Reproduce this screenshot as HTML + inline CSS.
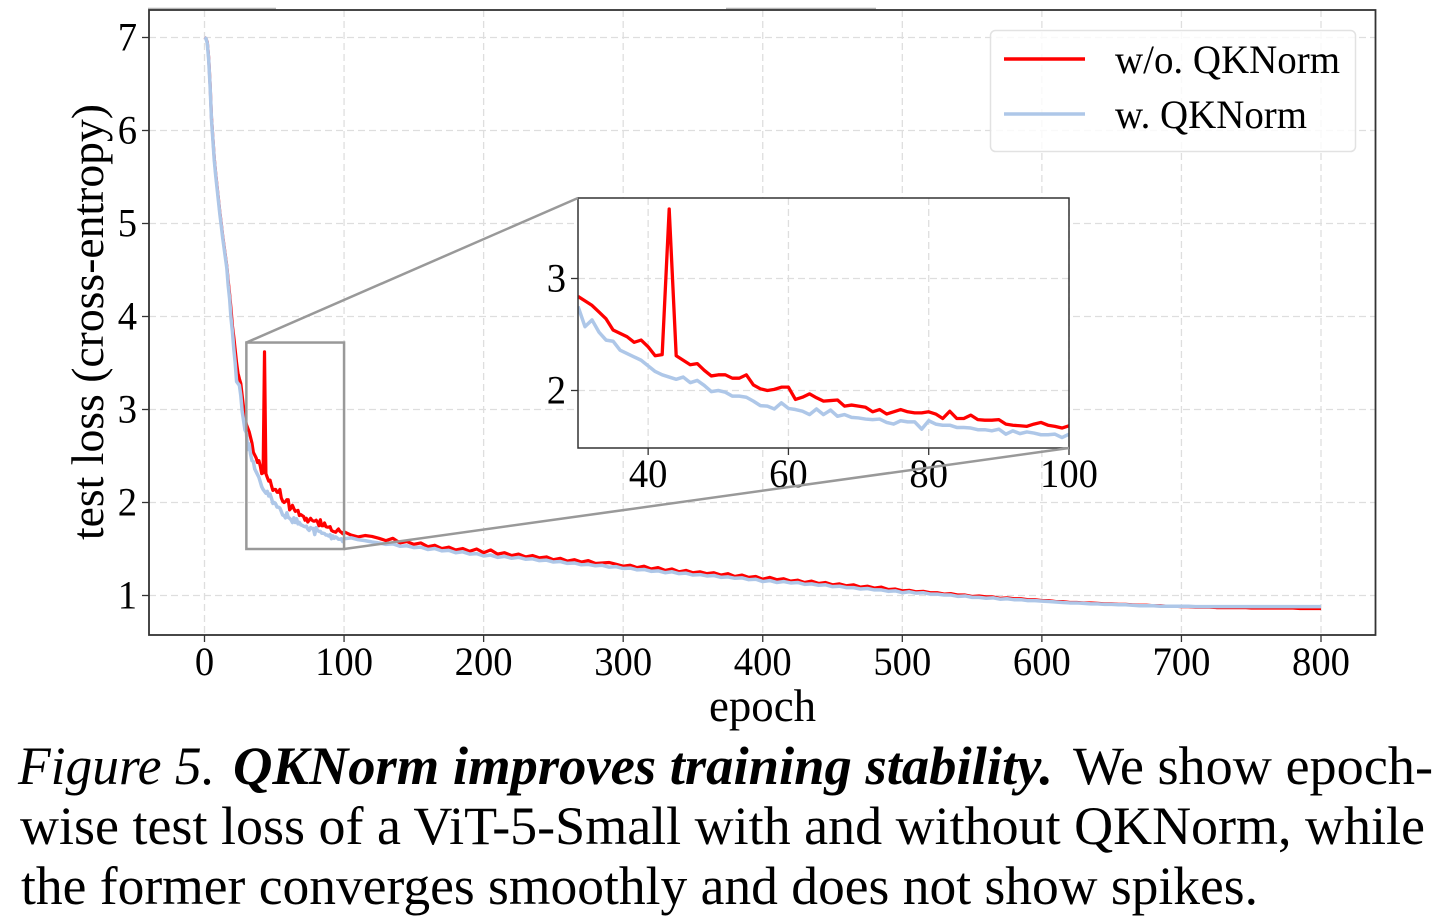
<!DOCTYPE html>
<html lang="en">
<head>
<meta charset="utf-8">
<title>QKNorm improves training stability</title>
<style>
html,body{margin:0;padding:0;background:#fff;width:1435px;height:920px;overflow:hidden}
svg{display:block}
text{font-family:"Liberation Serif",serif;fill:#000}
</style>
</head>
<body>
<svg id="fig" xmlns="http://www.w3.org/2000/svg" width="1435" height="920" viewBox="0 0 1435 920">
  <rect x="0" y="0" width="1435" height="920" fill="#fff"/>
  <g id="main"></g>
  <g id="inset"></g>
  <g>
    <rect x="990.5" y="30.5" width="365" height="121" rx="5" fill="#fff" fill-opacity="0.8" stroke="#e2e2e2" stroke-width="1.5"/>
    <line x1="1004" y1="59" x2="1085" y2="59" stroke="#ff0000" stroke-width="3.5"/>
    <text x="1115" y="73" font-size="40" textLength="225" lengthAdjust="spacingAndGlyphs">w/o. QKNorm</text>
    <line x1="1004" y1="114" x2="1085" y2="114" stroke="#aec7e8" stroke-width="3.5"/>
    <text x="1115" y="128" font-size="40" textLength="192" lengthAdjust="spacingAndGlyphs">w. QKNorm</text>
  </g>
  <g>
    <text x="18" y="784" font-size="54" font-style="italic" textLength="197" lengthAdjust="spacingAndGlyphs">Figure 5.</text>
    <text x="233" y="784" font-size="54" font-style="italic" font-weight="bold" textLength="820" lengthAdjust="spacingAndGlyphs">QKNorm improves training stability.</text>
    <text x="1073" y="784" font-size="54" textLength="360" lengthAdjust="spacingAndGlyphs">We show epoch-</text>
    <text x="20" y="844" font-size="54" textLength="1405" lengthAdjust="spacingAndGlyphs">wise test loss of a ViT-5-Small with and without QKNorm, while</text>
    <text x="21" y="904" font-size="54" textLength="1237" lengthAdjust="spacingAndGlyphs">the former converges smoothly and does not show spikes.</text>
  </g>
</svg>
<script>
const mainXTicks = [0,100,200,300,400,500,600,700,800];
const mainYTicks = [1,2,3,4,5,6,7];
const insetXTicks = [40,60,80,100];
const insetYTicks = [2,3];

// epochs 0..29, one value per epoch
const headRed = [7.0,6.99,6.95,6.78,6.5,6.14,5.92,5.7,5.54,5.4,5.26,5.12,5.0,4.87,4.76,4.65,4.54,4.38,4.24,4.08,3.9,3.78,3.64,3.5,3.39,3.33,3.28,3.15,3.02,2.92];
const headBlue = [7.0,6.99,6.94,6.76,6.48,6.12,5.9,5.68,5.52,5.38,5.24,5.1,4.98,4.85,4.74,4.63,4.52,4.33,4.19,3.98,3.84,3.65,3.5,3.30,3.28,3.26,3.15,2.98,2.88,2.78];

// epochs 30..100, one value per epoch (shown in the inset)
const zoomRed = [2.84,2.80,2.76,2.70,2.64,2.54,2.51,2.48,2.43,2.45,2.39,2.31,2.32,3.62,2.31,2.27,2.23,2.24,2.18,2.13,2.14,2.14,2.11,2.11,2.14,2.05,2.015,2.00,2.01,2.03,2.03,1.92,1.94,1.97,1.935,1.905,1.91,1.915,1.86,1.87,1.86,1.85,1.81,1.83,1.79,1.81,1.83,1.81,1.80,1.80,1.81,1.79,1.75,1.815,1.75,1.75,1.78,1.74,1.735,1.735,1.74,1.70,1.69,1.685,1.68,1.70,1.715,1.69,1.68,1.665,1.685];
const zoomBlue = [2.75,2.57,2.63,2.52,2.45,2.44,2.36,2.33,2.30,2.27,2.22,2.17,2.14,2.12,2.10,2.12,2.07,2.09,2.045,1.99,2.00,1.985,1.95,1.95,1.94,1.905,1.865,1.86,1.835,1.89,1.84,1.83,1.815,1.785,1.835,1.785,1.825,1.77,1.785,1.76,1.755,1.745,1.74,1.745,1.715,1.70,1.73,1.72,1.72,1.655,1.73,1.70,1.69,1.69,1.67,1.67,1.665,1.65,1.65,1.64,1.655,1.61,1.64,1.615,1.63,1.62,1.605,1.605,1.61,1.58,1.61];

// epochs 105..800, one value every 5 epochs
const tailRed = [1.65,1.63,1.645,1.635,1.615,1.59,1.615,1.565,1.58,1.55,
1.565,1.525,1.54,1.505,1.52,1.49,1.505,1.475,1.50,1.46,
1.49,1.445,1.46,1.43,1.445,1.415,1.43,1.405,1.415,1.385,
1.40,1.37,1.385,1.36,1.375,1.345,1.35,1.355,1.335,1.315,
1.325,1.30,1.315,1.285,1.30,1.27,1.285,1.255,1.27,1.245,
1.255,1.235,1.245,1.22,1.235,1.205,1.22,1.195,1.205,1.175,
1.195,1.17,1.18,1.155,1.165,1.14,1.155,1.13,1.14,1.115,
1.125,1.105,1.115,1.09,1.10,1.08,1.09,1.065,1.07,1.05,
1.055,1.04,1.045,1.03,1.03,1.015,1.02,1.005,1.005,0.99,
0.995,0.985,0.985,0.97,0.975,0.965,0.965,0.955,0.955,0.945,
0.945,0.935,0.935,0.925,0.925,0.92,0.92,0.915,0.91,0.91,
0.905,0.905,0.90,0.895,0.895,0.89,0.89,0.885,0.885,0.88,
0.88,0.875,0.875,0.875,0.87,0.87,0.87,0.87,0.87,0.865,
0.865,0.865,0.865,0.865,0.865,0.865,0.86,0.86,0.86,0.86];
const tailBlue = [1.62,1.60,1.59,1.575,1.565,1.55,1.555,1.53,1.535,1.515,
1.52,1.495,1.505,1.48,1.485,1.46,1.47,1.445,1.45,1.425,
1.435,1.41,1.42,1.40,1.41,1.39,1.395,1.375,1.38,1.36,
1.365,1.345,1.35,1.33,1.335,1.32,1.325,1.305,1.31,1.29,
1.295,1.275,1.28,1.26,1.265,1.245,1.255,1.235,1.24,1.22,
1.225,1.21,1.215,1.195,1.20,1.185,1.19,1.17,1.175,1.15,
1.16,1.14,1.15,1.135,1.14,1.12,1.125,1.11,1.115,1.095,
1.10,1.085,1.085,1.07,1.075,1.06,1.06,1.045,1.05,1.03,
1.04,1.025,1.03,1.015,1.015,1.005,1.005,0.99,0.995,0.98,
0.98,0.97,0.975,0.96,0.965,0.955,0.955,0.945,0.945,0.94,
0.935,0.93,0.925,0.92,0.92,0.915,0.91,0.91,0.905,0.905,
0.90,0.90,0.895,0.89,0.89,0.89,0.885,0.885,0.885,0.885,
0.885,0.88,0.88,0.88,0.88,0.88,0.88,0.88,0.88,0.88,
0.88,0.88,0.88,0.88,0.88,0.88,0.88,0.88,0.88,0.88];

const NS = 'http://www.w3.org/2000/svg';
const mainG = document.getElementById('main');
const insetG = document.getElementById('inset');

// main axes: x 0→204.5, 800→1321; y 1→595.5, 7→37.5
function mx(v){ return 204.5 + v * (1321 - 204.5) / 800; }
function my(v){ return 595.5 - (v - 1) * 93; }
// inset axes: x 30→578, 100→1069; y 2→390.5, 3→278.5
function ix(v){ return 578 + (v - 30) * (1069 - 578) / 70; }
function iy(v){ return 390.5 - (v - 2) * 112; }

function mk(parent, tag, attrs, txt){
  const el = document.createElementNS(NS, tag);
  for (const k in attrs) el.setAttribute(k, attrs[k]);
  if (txt !== undefined) el.textContent = txt;
  parent.appendChild(el);
  return el;
}
function pathFrom(xs, ys, fx, fy){
  return xs.map((e, i) => (i ? 'L' : 'M') + fx(e).toFixed(2) + ' ' + fy(ys[i]).toFixed(2)).join(' ');
}
function tickLen(t){ return String(t).length * 19.3; }

const fullRed = headRed.concat(zoomRed, tailRed);
const fullBlue = headBlue.concat(zoomBlue, tailBlue);
const fullEpochs = fullRed.map((_, i) => i <= 100 ? i : 100 + (i - 100) * 5);
const zoomEpochs = zoomRed.map((_, i) => 30 + i);

const GRID = {stroke:'#dedede', 'stroke-width':1.3, 'stroke-dasharray':'7 4', fill:'none'};

// artifact rules above the frame
let el = mk(mainG, 'line', {x1:148, y1:8.5, x2:276, y2:8.5, stroke:'#b5b5b5', 'stroke-width':1.5});


el = mk(mainG, 'line', {x1:726, y1:8.5, x2:876, y2:8.5, stroke:'#b5b5b5', 'stroke-width':1.5});



// main grid, ticks and tick labels
mainXTicks.forEach(t => {
  let g = mk(mainG, 'line', Object.assign({x1:mx(t), x2:mx(t), y1:10, y2:635}, GRID));
  
  
  let k = mk(mainG, 'line', {x1:mx(t), x2:mx(t), y1:635, y2:642, stroke:'#333', 'stroke-width':1.3});
  
  
  let l = mk(mainG, 'text', {x:mx(t), y:675, 'font-size':40, 'text-anchor':'middle', textLength:tickLen(t), lengthAdjust:'spacingAndGlyphs'}, String(t));
  
  
});
mainYTicks.forEach(t => {
  let g = mk(mainG, 'line', Object.assign({x1:149, x2:1375.5, y1:my(t), y2:my(t)}, GRID));
  
  
  let k = mk(mainG, 'line', {x1:142, x2:149, y1:my(t), y2:my(t), stroke:'#333', 'stroke-width':1.3});
  
  
  let l = mk(mainG, 'text', {x:137, y:my(t) + 13, 'font-size':40, 'text-anchor':'end', textLength:tickLen(t), lengthAdjust:'spacingAndGlyphs'}, String(t));
  
  
});

// main series
const redMain = mk(mainG, 'path', {d:pathFrom(fullEpochs, fullRed, mx, my), fill:'none', stroke:'#ff0000', 'stroke-width':3.2, 'stroke-linejoin':'round'});


const blueMain = mk(mainG, 'path', {d:pathFrom(fullEpochs, fullBlue, mx, my), fill:'none', stroke:'#aec7e8', 'stroke-width':3.5, 'stroke-linejoin':'round'});



// main frame and axis titles
el = mk(mainG, 'rect', {x:149, y:10, width:1226.5, height:625, fill:'none', stroke:'#333', 'stroke-width':1.8});


el = mk(mainG, 'text', {x:762.5, y:721, 'font-size':45, 'text-anchor':'middle', textLength:107, lengthAdjust:'spacingAndGlyphs'}, 'epoch');


el = mk(mainG, 'text', {x:0, y:0, 'font-size':45, 'text-anchor':'middle', textLength:436, lengthAdjust:'spacingAndGlyphs', transform:'translate(103 322) rotate(-90)'}, 'test loss (cross-entropy)');



// zoom indicator
el = mk(insetG, 'rect', {x:mx(30), y:my(3.72), width:mx(100) - mx(30), height:my(1.5) - my(3.72), fill:'none', stroke:'#999', 'stroke-width':2.5});



// inset background, grid, ticks, labels
el = mk(insetG, 'rect', {x:578, y:198, width:491, height:250, fill:'#fff'});


insetXTicks.forEach(t => {
  let g = mk(insetG, 'line', Object.assign({x1:ix(t), x2:ix(t), y1:198, y2:448}, GRID));
  
  
  let k = mk(insetG, 'line', {x1:ix(t), x2:ix(t), y1:448, y2:455, stroke:'#333', 'stroke-width':1.3});
  
  
  let l = mk(insetG, 'text', {x:ix(t), y:487, 'font-size':40, 'text-anchor':'middle', textLength:tickLen(t), lengthAdjust:'spacingAndGlyphs'}, String(t));
  
  
});
insetYTicks.forEach(t => {
  let g = mk(insetG, 'line', Object.assign({x1:578, x2:1069, y1:iy(t), y2:iy(t)}, GRID));
  
  
  let k = mk(insetG, 'line', {x1:571, x2:578, y1:iy(t), y2:iy(t), stroke:'#333', 'stroke-width':1.3});
  
  
  let l = mk(insetG, 'text', {x:566, y:iy(t) + 13, 'font-size':40, 'text-anchor':'end', textLength:tickLen(t), lengthAdjust:'spacingAndGlyphs'}, String(t));
  
  
});

// inset series
const defs = mk(insetG, 'defs', {});
const clip = mk(defs, 'clipPath', {id:'insetClip'});
mk(clip, 'rect', {x:578, y:198, width:491, height:250});
const blueInset = mk(insetG, 'path', {d:pathFrom(zoomEpochs, zoomBlue, ix, iy), fill:'none', stroke:'#aec7e8', 'stroke-width':3.5, 'stroke-linejoin':'round', 'clip-path':'url(#insetClip)'});


const redInset = mk(insetG, 'path', {d:pathFrom(zoomEpochs, zoomRed, ix, iy), fill:'none', stroke:'#ff0000', 'stroke-width':3.3, 'stroke-linejoin':'round', 'clip-path':'url(#insetClip)'});



// inset frame and connectors
el = mk(insetG, 'rect', {x:578, y:198, width:491, height:250, fill:'none', stroke:'#333', 'stroke-width':1.5});


el = mk(insetG, 'line', {x1:mx(30), y1:my(3.72), x2:578, y2:198, stroke:'#999', 'stroke-width':2.5});


el = mk(insetG, 'line', {x1:mx(100), y1:my(1.5), x2:1069, y2:448, stroke:'#999', 'stroke-width':2.5});


</script>
</body>
</html>
